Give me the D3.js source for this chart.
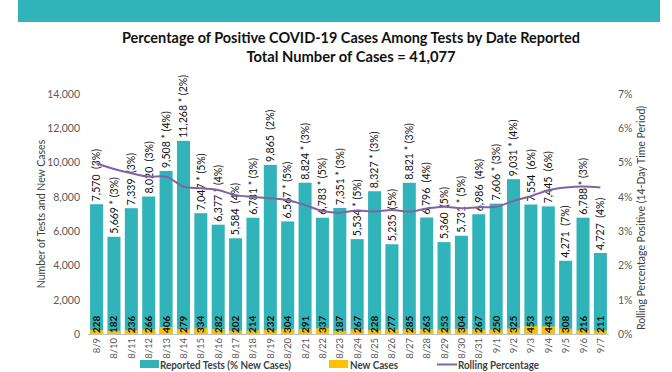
<!DOCTYPE html>
<html>
<head>
<meta charset="utf-8">
<script src="https://cdn.jsdelivr.net/npm/d3@7"></script>
<style>
  body { margin: 0; background: #fff; }
  svg { display: block; font-family: Lato, "Open Sans", sans-serif; }
</style>
</head>
<body>
<svg id="chart"></svg>
<script>
// data
const dates = ["8/9","8/10","8/11","8/12","8/13","8/14","8/15","8/16","8/17","8/18",
  "8/19","8/20","8/21","8/22","8/23","8/24","8/25","8/26","8/27","8/28",
  "8/29","8/30","8/31","9/1","9/2","9/3","9/4","9/5","9/6","9/7"];
const reportedTests = [7570,5669,7339,8020,9508,11268,7047,6377,5584,6781,
  9865,6567,8824,6783,7351,5534,8327,5235,8821,6796,
  5360,5731,6986,7606,9031,7554,7445,4271,6788,4727];
const newCases = [228,182,236,266,406,279,334,282,202,214,
  232,304,291,337,187,267,228,277,285,263,
  253,304,267,250,325,453,443,308,216,211];
const pctNew = [3,3,3,3,4,2,5,4,4,3,2,5,3,5,3,5,3,5,3,4,5,5,4,3,4,6,6,7,3,4];
const starred = ["8/10","8/13","8/14","8/15","8/16","8/18","8/20","8/21","8/22","8/23",
  "8/24","8/25","8/27","8/30","9/1","9/2","9/6"];
const rolling = [4.98,4.81,4.69,4.59,4.59,4.30,4.25,4.20,4.05,4.00,
  3.96,3.90,3.76,3.59,3.54,3.60,3.57,3.62,3.57,3.66,
  3.71,3.67,3.70,3.71,3.88,4.02,4.19,4.27,4.30,4.27];
const leftTicks = [0,2000,4000,6000,8000,10000,12000,14000];
const rightTicks = [0,1,2,3,4,5,6,7];

const width = 672, height = 372;
const teal = "#31b4b9", gold = "#ffc000", purple = "#8064a2";

const svg = d3.select("#chart").attr("width", width).attr("height", height);

// banner on top
svg.append("rect").attr("x", 18).attr("y", 0).attr("width", 642).attr("height", 22)
  .attr("fill", teal);

// titles
svg.append("text").attr("x", 351).attr("y", 43).attr("text-anchor", "middle")
  .attr("textLength", 458).attr("lengthAdjust", "spacingAndGlyphs")
  .style("font-size", "15px").style("font-weight", "bold").style("fill", "#111")
  .text("Percentage of Positive COVID-19 Cases Among Tests by Date Reported");
svg.append("text").attr("x", 351).attr("y", 62).attr("text-anchor", "middle")
  .attr("textLength", 209).attr("lengthAdjust", "spacingAndGlyphs")
  .style("font-size", "15px").style("font-weight", "bold").style("fill", "#111")
  .text("Total Number of Cases = 41,077");

// scales
const x = d3.scaleBand().domain(dates).range([88, 609]).paddingInner(0.25).paddingOuter(0.12);
const y = d3.scaleLinear().domain([0, 14000]).range([334, 94]);
const yR = d3.scaleLinear().domain([0, 7]).range([334, 94]);

// left axis
const yAxis = svg.append("g").attr("transform", "translate(84,0)")
  .call(d3.axisLeft(y).tickValues(leftTicks).tickFormat(d3.format(",")).tickSize(0).tickPadding(4));
yAxis.select(".domain").remove();
yAxis.selectAll("text").style("font-size", "10.5px").style("fill", "#595959")
  .style("font-family", "Lato, sans-serif");

// right axis
const yAxisR = svg.append("g").attr("transform", "translate(614,0)")
  .call(d3.axisRight(yR).tickValues(rightTicks).tickFormat(d => d + "%").tickSize(0).tickPadding(4));
yAxisR.select(".domain").remove();
yAxisR.selectAll("text").style("font-size", "10.5px").style("fill", "#595959")
  .style("font-family", "Lato, sans-serif");

// axis titles
svg.append("text").attr("transform", "translate(45,214) rotate(-90)")
  .attr("text-anchor", "middle").style("font-size", "10.5px").style("fill", "#404040")
  .text("Number of Tests and New Cases");
svg.append("text").attr("transform", "translate(645,218) rotate(-90)")
  .attr("text-anchor", "middle").style("font-size", "10.5px").style("fill", "#404040")
  .text("Rolling Percentage Positive (14-Day Time Period)");

const rows = dates.map((d, i) => ({
  date: d, tests: reportedTests[i], cases: newCases[i], pct: pctNew[i],
  star: starred.includes(d), roll: rolling[i]
}));

// bars
svg.append("g").selectAll("rect").data(rows).enter().append("rect")
  .attr("x", d => x(d.date)).attr("width", x.bandwidth())
  .attr("y", d => y(d.tests)).attr("height", d => y(0) - y(d.tests))
  .attr("fill", teal);
svg.append("g").selectAll("rect").data(rows).enter().append("rect")
  .attr("x", d => x(d.date)).attr("width", x.bandwidth())
  .attr("y", d => y(d.cases)).attr("height", d => y(0) - y(d.cases))
  .attr("fill", gold);

// baseline
svg.append("line").attr("x1", 88).attr("x2", 609).attr("y1", 334.5).attr("y2", 334.5)
  .attr("stroke", "#bfbfbf").attr("stroke-width", 1);

// new case labels inside the bars
svg.append("g").selectAll("text").data(rows).enter().append("text")
  .attr("transform", d => `translate(${x(d.date) + x.bandwidth() / 2 + 3.5},333) rotate(-90)`)
  .style("font-size", "10px").style("font-weight", "bold").style("fill", "#111")
  .text(d => d.cases);

// test labels above the bars
const fmt = d3.format(",");
svg.append("g").selectAll("text").data(rows).enter().append("text")
  .attr("transform", d => `translate(${x(d.date) + x.bandwidth() / 2 + 3.8},${y(d.tests) - 3}) rotate(-90)`)
  .style("font-size", "10.5px").style("fill", "#111").style("white-space", "pre")
  .text(d => fmt(d.tests) + (d.star ? " * " : "  ") + "(" + d.pct + "%)");

// rolling percentage line
const line = d3.line()
  .x(d => x(d.date) + x.bandwidth() / 2)
  .y(d => yR(d.roll))
  .curve(d3.curveCatmullRom);
svg.append("path").datum(rows).attr("d", line)
  .attr("fill", "none").attr("stroke", purple).attr("stroke-width", 2);

// x labels
svg.append("g").selectAll("text").data(rows).enter().append("text")
  .attr("transform", d => `translate(${x(d.date) + x.bandwidth() / 2 + 3.5},338) rotate(-90)`)
  .attr("text-anchor", "end")
  .style("font-size", "9.5px").style("fill", "#595959")
  .text(d => d.date);

// legend
const legend = svg.append("g").style("font-size", "11.5px").style("font-weight", "bold").style("fill", "#404040");
legend.append("rect").attr("x", 140).attr("y", 360).attr("width", 19).attr("height", 8).attr("fill", teal);
legend.append("text").attr("x", 160).attr("y", 368.5)
  .attr("textLength", 131).attr("lengthAdjust", "spacingAndGlyphs").text("Reported Tests (% New Cases)");
legend.append("rect").attr("x", 329).attr("y", 360).attr("width", 19).attr("height", 8).attr("fill", gold);
legend.append("text").attr("x", 350).attr("y", 368.5)
  .attr("textLength", 48).attr("lengthAdjust", "spacingAndGlyphs").text("New Cases");
legend.append("line").attr("x1", 437).attr("x2", 457).attr("y1", 364.5).attr("y2", 364.5)
  .attr("stroke", purple).attr("stroke-width", 2);
legend.append("text").attr("x", 458).attr("y", 368.5)
  .attr("textLength", 81).attr("lengthAdjust", "spacingAndGlyphs").text("Rolling Percentage");
</script>
</body>
</html>
